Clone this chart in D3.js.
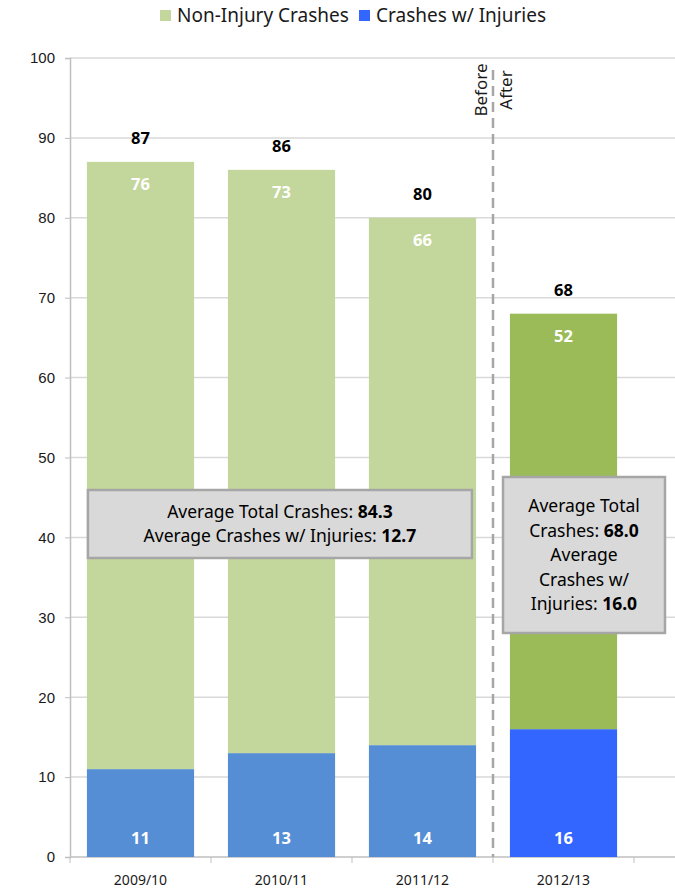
<!DOCTYPE html>
<html>
<head>
<meta charset="utf-8">
<script src="https://cdn.jsdelivr.net/npm/d3@7"></script>
<style>
  body { margin: 0; background: #fff; }
  svg { display: block; font-family: "Noto Sans", "Open Sans", sans-serif; }
</style>
</head>
<body>
<svg id="chart" width="675" height="889"></svg>
<script>
// data
var seasons = ["2009/10", "2010/11", "2011/12", "2012/13", ""];
var nonInjury = [76, 73, 66, 52];
var injuries = [11, 13, 14, 16];
var totals = [87, 86, 80, 68];
var yTicks = [0, 10, 20, 30, 40, 50, 60, 70, 80, 90, 100];
var boxBefore = [["Average Total Crashes: ", "84.3"], ["Average Crashes w/ Injuries: ", "12.7"]];
var boxAfter = [["Average Total", ""], ["Crashes: ", "68.0"], ["Average", ""], ["Crashes w/", ""], ["Injuries: ", "16.0"]];

var svg = d3.select("#chart");

var x = d3.scaleBand().domain(seasons).range([70, 775]).paddingInner(0.24).paddingOuter(0.12);
var y = d3.scaleLinear().domain([0, 100]).range([857, 58]);

// gridlines
svg.append("g")
    .selectAll("line")
    .data(yTicks.slice(1))
    .join("line")
    .attr("x1", 70).attr("x2", 675)
    .attr("y1", function(d) { return y(d); })
    .attr("y2", function(d) { return y(d); })
    .attr("stroke", "#d9d9d9")
    .attr("stroke-width", 1.5);

// y axis
var yAxis = svg.append("g")
    .attr("transform", "translate(70,0)")
    .call(d3.axisLeft(y).tickValues(yTicks).tickSize(5).tickPadding(10));
yAxis.select(".domain").attr("stroke", "#bfbfbf").attr("stroke-width", 1.5);
yAxis.selectAll(".tick line").attr("stroke", "#bfbfbf");
yAxis.selectAll("text").attr("font-size", 15).attr("fill", "#1a1a1a");

// x axis
var band = x.step();
var xAxis = svg.append("g")
    .attr("transform", "translate(0,857)");
xAxis.append("line")
    .attr("x1", 70).attr("x2", 675)
    .attr("stroke", "#bfbfbf").attr("stroke-width", 1.5);
xAxis.selectAll("line.tk")
    .data(seasons)
    .join("line")
    .attr("class", "tk")
    .attr("x1", function(d) { return x(d) + x.bandwidth() / 2 - band / 2; })
    .attr("x2", function(d) { return x(d) + x.bandwidth() / 2 - band / 2; })
    .attr("y1", 0).attr("y2", 6)
    .attr("stroke", "#bfbfbf");
xAxis.selectAll("text")
    .data(seasons)
    .join("text")
    .attr("x", function(d) { return x(d) + x.bandwidth() / 2; })
    .attr("y", 28)
    .attr("text-anchor", "middle")
    .attr("font-size", 14)
    .attr("fill", "#1a1a1a")
    .text(function(d) { return d; });

var bars = seasons.slice(0, 4);

// injury bars
svg.append("g")
    .selectAll("rect")
    .data(bars)
    .join("rect")
    .attr("x", function(d) { return x(d); })
    .attr("width", x.bandwidth())
    .attr("y", function(d, i) { return y(injuries[i]); })
    .attr("height", function(d, i) { return y(0) - y(injuries[i]); })
    .attr("fill", function(d, i) { return i == 3 ? "#3366ff" : "#558ed5"; });

// non injury bars
svg.append("g")
    .selectAll("rect")
    .data(bars)
    .join("rect")
    .attr("x", function(d) { return x(d); })
    .attr("width", x.bandwidth())
    .attr("y", function(d, i) { return y(injuries[i] + nonInjury[i]); })
    .attr("height", function(d, i) { return y(injuries[i]) - y(injuries[i] + nonInjury[i]); })
    .attr("fill", function(d, i) { return i == 3 ? "#9bbb59" : "#c3d69b"; });

// labels
var lbl = svg.append("g").attr("font-weight", "bold").attr("text-anchor", "middle").attr("font-size", 16.5);
lbl.selectAll("text.tot")
    .data(bars)
    .join("text")
    .attr("class", "tot")
    .attr("x", function(d) { return x(d) + x.bandwidth() / 2; })
    .attr("y", function(d, i) { return y(totals[i]) - 18; })
    .attr("fill", "#000")
    .text(function(d, i) { return totals[i]; });
lbl.selectAll("text.non")
    .data(bars)
    .join("text")
    .attr("class", "non")
    .attr("x", function(d) { return x(d) + x.bandwidth() / 2; })
    .attr("y", function(d, i) { return y(totals[i]) + 28; })
    .attr("fill", "#fff")
    .text(function(d, i) { return nonInjury[i]; });
lbl.selectAll("text.inj")
    .data(bars)
    .join("text")
    .attr("class", "inj")
    .attr("x", function(d) { return x(d) + x.bandwidth() / 2; })
    .attr("y", y(0) - 13)
    .attr("fill", "#fff")
    .text(function(d, i) { return injuries[i]; });

// before / after divider
var divX = x("2012/13") - (band - x.bandwidth()) / 2;
svg.append("line")
    .attr("x1", divX).attr("x2", divX)
    .attr("y1", y(100) + 12).attr("y2", y(0))
    .attr("stroke", "#a6a6a6")
    .attr("stroke-width", 2.5)
    .attr("stroke-dasharray", "10,6");
svg.append("text")
    .attr("transform", "translate(" + (divX - 6) + "," + 90 + ") rotate(-90)")
    .attr("text-anchor", "middle")
    .attr("font-size", 17)
    .attr("fill", "#1a1a1a")
    .text("Before");
svg.append("text")
    .attr("transform", "translate(" + (divX + 19) + "," + 90 + ") rotate(-90)")
    .attr("text-anchor", "middle")
    .attr("font-size", 17)
    .attr("fill", "#1a1a1a")
    .text("After");

// average boxes
function drawBox(x0, y0, w, h, lines, lineH) {
    var g = svg.append("g");
    g.append("rect")
        .attr("x", x0).attr("y", y0)
        .attr("width", w).attr("height", h)
        .attr("fill", "#d9d9d9")
        .attr("stroke", "#a6a6a6")
        .attr("stroke-width", 2.5);
    var top = y0 + h / 2 - (lines.length - 1) * lineH / 2 + 6;
    lines.forEach(function(l, i) {
        var t = g.append("text")
            .attr("x", x0 + w / 2)
            .attr("y", top + i * lineH)
            .attr("text-anchor", "middle")
            .attr("font-size", 17.5)
            .attr("fill", "#000");
        t.append("tspan").text(l[0]);
        if (l[1]) t.append("tspan").attr("font-weight", "bold").text(l[1]);
    });
}
drawBox(x("2009/10") + 1, 490, 384, 68, boxBefore, 24);
drawBox(503, 477, 162, 156, boxAfter, 24.5);

// legend
var legend = [["Non-Injury Crashes", "#c3d69b", 160], ["Crashes w/ Injuries", "#3366ff", 359]];
var lg = svg.append("g");
legend.forEach(function(l) {
    lg.append("rect").attr("x", l[2]).attr("y", 10).attr("width", 11).attr("height", 11).attr("fill", l[1]);
    lg.append("text").attr("x", l[2] + 17).attr("y", 22).attr("font-size", 19).attr("fill", "#1a1a1a").text(l[0]);
});
</script>
</body>
</html>
